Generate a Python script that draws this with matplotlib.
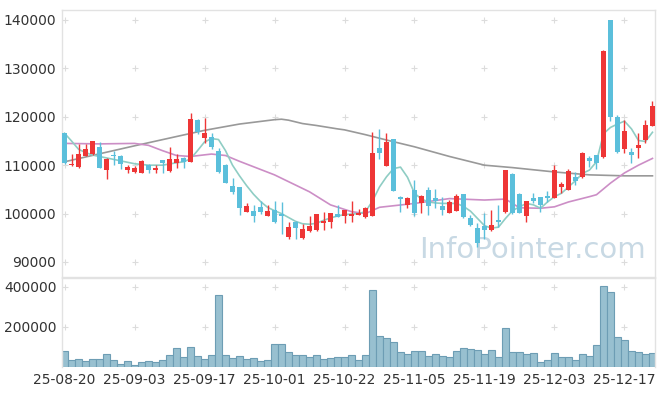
import numpy as np
import pandas as pd
import matplotlib
matplotlib.use('Agg')
import matplotlib.pyplot as plt

# --- trading days (KRX, Chuseok closed 10/03-10/09) ---
holidays = ['2025-10-03', '2025-10-06', '2025-10-07', '2025-10-08', '2025-10-09']
dates = [d for d in pd.bdate_range('2025-08-20', '2025-12-23')
         if d.strftime('%Y-%m-%d') not in holidays]

# --- OHLC ---
opens = [116600, 110000, 109600, 112000, 112300, 113800, 109000, 112100, 111800, 109000,
         108500, 108300, 110000, 109000, 111100, 108700, 110500, 111400, 110700, 119300,
         115600, 115900, 112900, 110000, 105700, 105400, 100400, 100500, 101400, 99500,
         100700, 99900, 95200, 98300, 95000, 96300, 96600, 98100, 98300, 99900,
         99400, 99500, 99700, 99200, 99600, 113500, 109900, 115400, 103500, 101800,
         104900, 102100, 104900, 103200, 101600, 100200, 100600, 104000, 99000, 97000,
         97400, 96600, 98700, 100400, 108200, 104100, 99500, 103300, 103400, 103500,
         103300, 105400, 104900, 107500, 107500, 111400, 112100, 111600, 140000, 120000,
         113300, 112800, 113500, 115100, 118100]
highs = [116700, 112300, 114300, 114300, 115000, 114700, 111500, 112900, 112100, 110000,
         109800, 111100, 110300, 110000, 111100, 113800, 112300, 111700, 120700, 119500,
         119700, 116600, 113600, 110200, 107300, 105500, 102100, 101800, 102500, 101800,
         102500, 102300, 98300, 98400, 97800, 99400, 99900, 100400, 100100, 101800,
         100800, 102600, 100900, 101300, 116900, 117400, 116700, 115500, 103600, 103400,
         106900, 103800, 105400, 105000, 103500, 102800, 104100, 104100, 99700, 98000,
         100100, 100700, 101800, 109100, 108300, 104200, 102500, 104200, 103500, 104700,
         110000, 106600, 109200, 108500, 112800, 112000, 112100, 133800, 140000, 120400,
         119300, 113500, 116600, 119300, 123300]
lows = [110300, 109800, 109500, 111900, 112200, 109400, 107100, 110000, 109200, 108300,
        108400, 108300, 108300, 108300, 108300, 108600, 109400, 109400, 110600, 116400,
        114600, 113300, 108400, 106300, 104000, 99800, 100300, 98300, 100000, 99500,
        98000, 95800, 94700, 94700, 94700, 96200, 96400, 96600, 97000, 99200,
        98000, 98300, 99700, 99100, 99400, 111200, 109800, 104700, 100400, 101100,
        99400, 100100, 99700, 101100, 99700, 100100, 100500, 99100, 97400, 93200,
        94700, 96500, 97300, 100100, 100000, 100100, 98300, 102100, 100400, 102300,
        103200, 104200, 104800, 105900, 107400, 109700, 109200, 111500, 119100, 112500,
        112500, 110500, 111400, 114500, 118000]
closes = [110500, 110300, 112300, 113300, 115000, 109500, 111300, 111900, 110200, 109600,
          109500, 110900, 109000, 109400, 110500, 111300, 111300, 110700, 119500, 116900,
          116600, 113800, 108500, 106400, 104500, 101100, 101600, 99600, 100400, 100500,
          98300, 99600, 97300, 97000, 96800, 97400, 99900, 98500, 100100, 99200,
          100700, 99900, 100100, 101100, 112500, 112600, 114700, 104700, 103000, 103200,
          100200, 103600, 101600, 102700, 100700, 102300, 103600, 99200, 97600, 94000,
          96600, 97600, 98300, 109000, 100100, 100200, 102500, 102500, 101700, 103300,
          109000, 106100, 108700, 106800, 112500, 110900, 110500, 133600, 120000, 112800,
          117100, 112100, 114200, 118300, 122200]
volumes = [78300, 33300, 38300, 28300, 41700, 41700, 66700, 33300, 16700, 28300,
           11700, 23300, 28300, 23300, 36700, 61700, 96700, 51700, 101700, 56700,
           41700, 61700, 356700, 61700, 46700, 56700, 41700, 46700, 28300, 33300,
           116700, 116700, 76700, 61700, 61700, 51700, 61700, 41700, 46700, 51700,
           51700, 61700, 36700, 61700, 381700, 156700, 146700, 126700, 76700, 66700,
           81700, 81700, 56700, 66700, 56700, 51700, 81700, 96700, 91700, 86700,
           66700, 86700, 51700, 196700, 76700, 76700, 66700, 71700, 26700, 33300,
           71700, 51700, 51700, 36700, 66700, 56700, 111700, 401700, 371700, 151700,
           136700, 81700, 76700, 66700, 71700]

# --- moving averages (bar index, value) ---
ma5_idx = [0, 1, 2, 3, 4, 6, 8, 10, 12, 14, 16, 17, 18, 19, 20, 21, 22, 23, 24, 25,
           26, 27, 28, 29, 30, 31, 32, 33, 34, 35, 36, 37, 38, 39, 40, 41, 42, 43, 44, 45,
           46, 47, 48, 49, 50, 51, 52, 53, 54, 55, 56, 57, 58, 59, 60, 61, 62, 63, 64, 65,
           66, 67, 68, 69, 70, 71, 72, 73, 74, 75, 76, 77, 78, 79, 80, 81, 82, 83, 84]
ma5_val = [116600, 115000, 113300, 112600, 112100, 111500, 110900, 110300, 110000, 110000,
           110500, 110700, 111300, 113000, 114800, 115500, 115300, 113000, 110000, 107800,
           105800, 104000, 102500, 101300, 100600, 100000, 99200, 98400, 97900, 97800,
           98000, 98600, 99100, 99500, 99800, 99900, 100000, 100400, 102600, 105500,
           107600, 109300, 109600, 107500, 104200, 103000, 102400, 102200, 102100, 102100,
           102100, 101500, 100500, 99000, 97500, 97000, 97200, 99000, 100600, 101400,
           102100, 101800, 101100, 102400, 103500, 104200, 105500, 106800, 108300, 109000,
           110700, 116500, 117800, 118500, 119100, 117500, 115100, 114900, 116800]
ma20_idx = [0, 5, 10, 12, 14, 16, 18, 21, 23, 25, 30, 35, 38, 41, 43, 45, 50, 55, 60, 63,
            65, 68, 70, 72, 75, 76, 78, 80, 82, 84]
ma20_val = [114500, 114400, 114500, 114100, 113000, 112000, 111800, 112300, 112000, 110800,
            108000, 104500, 101800, 100400, 100000, 101300, 102100, 103100, 102800, 103000,
            101200, 101100, 101400, 102400, 103500, 103900, 106300, 108400, 110000, 111400]
ma60_idx = [0, 10, 20, 25, 30, 31, 32, 34, 36, 39, 40, 43, 46, 50, 55, 60, 64, 70, 75, 80, 84]
ma60_val = [110700, 114000, 117200, 118500, 119400, 119500, 119300, 118600, 118200, 117500,
            117300, 116300, 115200, 113800, 111800, 110000, 109500, 108600, 108000, 107800, 107800]

UP, DOWN = '#ee3636', '#5bbfdb'

fig = plt.figure(figsize=(6.65, 3.96), dpi=100)
ax = fig.add_axes([62/665, 1 - 277/396, 593/665, 267/396])
axv = fig.add_axes([62/665, 1 - 367/396, 593/665, 89/396], sharex=ax)

x = np.arange(len(dates))
o, h, l, c = map(np.array, (opens, highs, lows, closes))
cols = np.where(c >= o, UP, DOWN)

# grid as faint crosses
tick_pos = x[::10]
for a, yt in ((ax, np.arange(90000, 140001, 10000)), (axv, [200000, 400000])):
    gx, gy = np.meshgrid(tick_pos, yt)
    a.scatter(gx.ravel(), gy.ravel(), marker='+', s=25, color='#dcdcdc', lw=0.8, zorder=0)

ax.text(0.985, 0.05, 'InfoPointer.com', transform=ax.transAxes, ha='right', va='bottom',
        fontsize=21, color='#c8d9e4', zorder=1)

ax.plot(ma60_idx, ma60_val, color='#999999', lw=1.2, zorder=2)
ax.plot(ma20_idx, ma20_val, color='#cc8ec6', lw=1.2, zorder=2)
ax.plot(ma5_idx, ma5_val, color='#8fcdc4', lw=1.2, zorder=2)

ax.vlines(x, l, h, colors=cols, lw=1, zorder=3)
body = np.maximum(np.abs(c - o), 250)
ax.bar(x, body, bottom=np.minimum(o, c), width=0.8, color=cols, lw=0, zorder=4)

axv.bar(x, volumes, width=1.0, color='#98c0d0', edgecolor='#6d9db4', lw=0.8, zorder=2)

ax.set_xlim(-0.36, 84.36)
ax.set_ylim(86900, 142060)
axv.set_ylim(0, 443500)

ax.set_yticks(np.arange(90000, 140001, 10000))
axv.set_yticks([200000, 400000])
axv.set_xticks(tick_pos)
axv.set_xticklabels([dates[i].strftime('%y-%m-%d') for i in tick_pos])
ax.tick_params(axis='x', labelbottom=False, length=0)

for a in (ax, axv):
    a.tick_params(axis='both', length=0, labelsize=10, labelcolor='#333333', pad=4)
    for s in a.spines.values():
        s.set_color('#e2e2e2')
        s.set_linewidth(1)
axv.spines['bottom'].set_visible(False)

fig.savefig('out.png', dpi=100)
